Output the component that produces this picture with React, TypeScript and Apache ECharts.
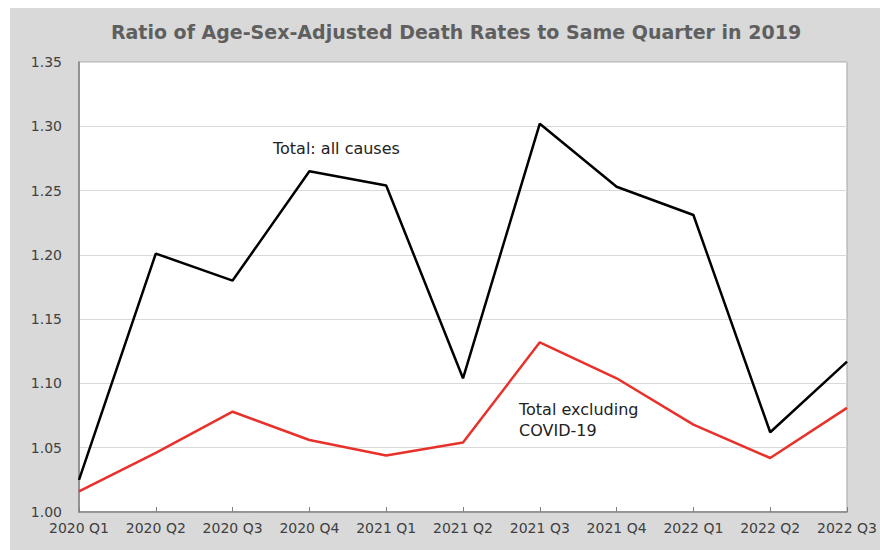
import React, { useEffect, useRef } from "react";
import * as echarts from "echarts";

const categories = ["2020 Q1", "2020 Q2", "2020 Q3", "2020 Q4", "2021 Q1", "2021 Q2", "2021 Q3", "2021 Q4", "2022 Q1", "2022 Q2", "2022 Q3"];
const totalAll = [1.025, 1.201, 1.180, 1.265, 1.254, 1.104, 1.302, 1.253, 1.231, 1.062, 1.117];
const totalExCovid = [1.016, 1.046, 1.078, 1.056, 1.044, 1.054, 1.132, 1.104, 1.068, 1.042, 1.081];
const title = "Ratio of Age-Sex-Adjusted Death Rates to Same Quarter in 2019";
const labelAll = "Total: all causes";
const labelEx1 = "Total excluding";
const labelEx2 = "COVID-19";

export default function App() {
  const ref = useRef<HTMLDivElement>(null);
  useEffect(() => {
    if (!ref.current) return;
    const chart = echarts.init(ref.current, null, { renderer: "svg" });
    const font = "'DejaVu Sans', sans-serif";
    chart.setOption({
      animation: false,
      backgroundColor: "#ffffff",
      textStyle: { fontFamily: font },
      title: {
        text: title,
        left: 451,
        top: 17,
        textAlign: "center",
        textStyle: { fontFamily: font, fontSize: 19, fontWeight: "bold", color: "#5f5f5f" },
      },
      graphic: {
        elements: [
          {
            type: "rect",
            z: -10,
            shape: { x: 10, y: 8, width: 870, height: 542 },
            style: { fill: "#d9d9d9" },
            silent: true,
          },
          {
            type: "text",
            z: 10,
            x: 273,
            y: 148,
            style: { text: labelAll, fontFamily: font, fontSize: 16, fill: "#222222", verticalAlign: "middle" },
          },
          {
            type: "text",
            z: 10,
            x: 519,
            y: 409,
            style: { text: labelEx1, fontFamily: font, fontSize: 16, fill: "#222222", verticalAlign: "middle" },
          },
          {
            type: "text",
            z: 10,
            x: 519,
            y: 430,
            style: { text: labelEx2, fontFamily: font, fontSize: 16, fill: "#222222", verticalAlign: "middle" },
          },
        ],
      },
      grid: {
        left: 79,
        right: 27,
        top: 62,
        bottom: 38,
        show: true,
        backgroundColor: "#ffffff",
        borderColor: "#a6a6a6",
        borderWidth: 1,
      },
      xAxis: {
        type: "category",
        data: categories,
        boundaryGap: false,
        axisLine: { lineStyle: { color: "#808080", width: 1.5 } },
        axisTick: { show: true, inside: true, length: 5, lineStyle: { color: "#808080" } },
        axisLabel: { color: "#404040", fontSize: 14, margin: 9, fontFamily: font, interval: 0 },
        splitLine: { show: false },
      },
      yAxis: {
        type: "value",
        min: 1.0,
        max: 1.35,
        interval: 0.05,
        axisLine: { show: true, lineStyle: { color: "#808080", width: 1.5 } },
        axisTick: { show: false },
        axisLabel: {
          color: "#404040",
          fontSize: 14,
          margin: 17,
          fontFamily: font,
          formatter: (v: number) => v.toFixed(2),
        },
        splitLine: { lineStyle: { color: "#d9d9d9", width: 1 } },
      },
      series: [
        {
          name: "Total: all causes",
          type: "line",
          data: totalAll,
          symbol: "none",
          lineStyle: { color: "#000000", width: 2.5 },
          z: 3,
        },
        {
          name: "Total excluding COVID-19",
          type: "line",
          data: totalExCovid,
          symbol: "none",
          lineStyle: { color: "#e8312a", width: 2.5 },
          z: 3,
        },
      ],
    });
    return () => chart.dispose();
  }, []);
  return (
    <div
      ref={ref}
      style={{ position: "absolute", left: 0, top: 0, width: 880, height: 550 }}
    />
  );
}
